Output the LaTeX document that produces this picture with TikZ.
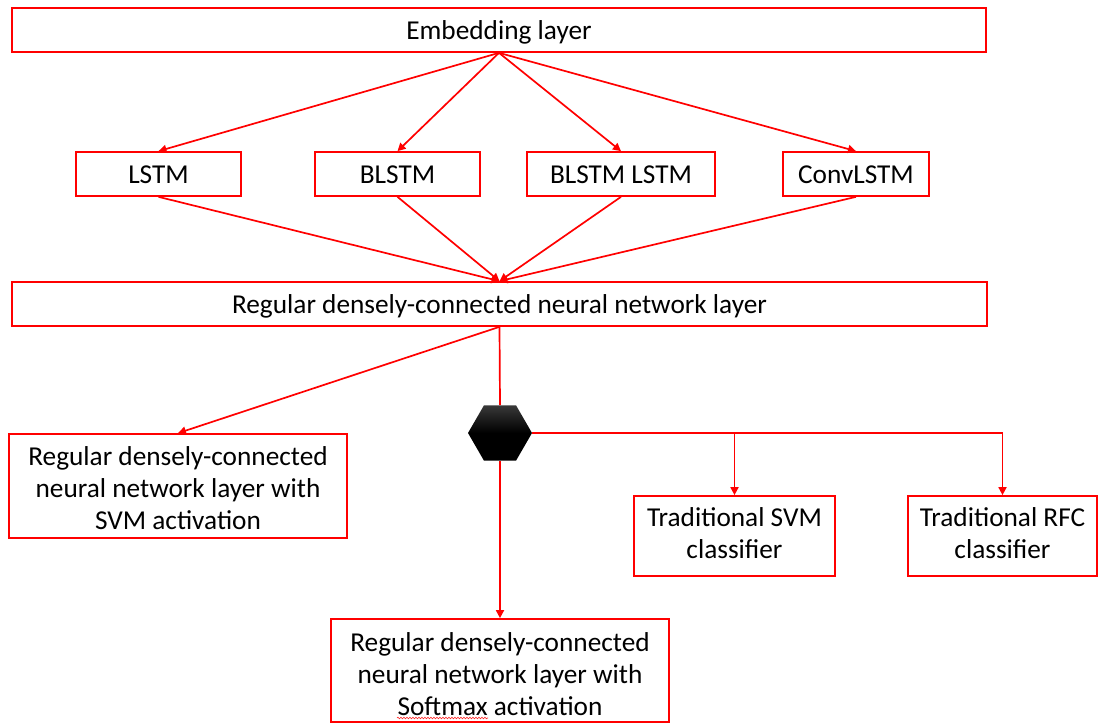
\documentclass[tikz,border=0pt]{standalone}
\usepackage{fontspec}
\setmainfont{Carlito}
\usetikzlibrary{arrows.meta,shapes.geometric,decorations.pathmorphing}

% stacked, centred lines whose baseline is that of the first line
\newcommand\boxlines[1]{\begin{tabular}[t]{@{}c@{}}#1\end{tabular}}

\begin{document}
\begin{tikzpicture}[x=1pt,y=-1pt,
  box/.style={draw=red, line width=1.7pt, fill=white, inner sep=0pt,
    font=\fontsize{27.3}{32}\selectfont},
  onebox/.style={box, minimum height=44pt, text height=20pt, text depth=1.4pt},
  multibox/.style={box, text height=20pt},
  arr/.style={draw=red, line width=1.7pt, -{Triangle[length=8pt,width=8pt]}},
  link/.style={draw=red, line width=1.7pt},
  hexa/.style={shape=regular polygon, regular polygon sides=6,
    minimum size=64pt, inner sep=0pt, draw=none,
    top color=black!78, bottom color=black, middle color=black}]
\useasboundingbox (0,0) rectangle (1104,725);

% input layer
\node[onebox, minimum width=974pt] (emb) at (499,30) {Embedding layer};

% recurrent variants
\node[onebox, minimum width=165pt] (lstm)  at (158.5,174) {LSTM};
\node[onebox, minimum width=165pt] (blstm) at (397.5,174) {BLSTM};
\node[onebox, minimum width=188pt] (bl2)   at (621,174)   {BLSTM LSTM};
\node[onebox, minimum width=146pt] (conv)  at (856,174)   {ConvLSTM};

% dense layer
\node[onebox, minimum width=975pt] (dense) at (499.5,304) {Regular densely-connected neural network layer};

% outputs
\node[multibox, text depth=62pt, minimum width=338pt, minimum height=104pt] (svmact) at (178,486)
  {\boxlines{Regular densely-connected\\neural network layer with\\SVM activation}};
\node[hexa] (hex) at (500,433) {};
\node[multibox, text depth=38.6pt, minimum width=201pt, minimum height=80pt] (tsvm) at (734.5,536)
  {\boxlines{Traditional SVM\\classifier}};
\node[multibox, text depth=38.6pt, minimum width=189pt, minimum height=80pt] (trfc) at (1002.5,536)
  {\boxlines{Traditional RFC\\classifier}};
\node[multibox, text depth=57.6pt, minimum width=338pt, minimum height=103pt] (soft) at (500,670.5)
  {\boxlines{Regular densely-connected\\neural network layer with\\Softmax activation}};

% spell-check squiggle under "Softmax"
\draw[red!85, line width=0.6pt, decorate,
  decoration={snake, amplitude=0.8pt, segment length=3pt}]
  (397,718) -- (488,718);

% embedding -> recurrent layers
\foreach \t in {lstm,blstm,bl2,conv}
  \draw[arr] (emb.south) -- (\t.north);

% recurrent layers -> dense layer
\foreach \s in {lstm,blstm,bl2,conv}
  \draw[arr] (\s.south) -- (dense.north);

% dense layer -> outputs
\draw[arr] (dense.south) -- (svmact.north);
\draw[link] (dense.south) -- (hex.north);
\draw[arr] (hex.south) -- (soft.north);
\draw[arr] (hex.east) -| (trfc.north);
\coordinate (br) at (hex.east -| tsvm.north);
\draw[arr] (br) -- (tsvm.north);
\end{tikzpicture}
\end{document}
